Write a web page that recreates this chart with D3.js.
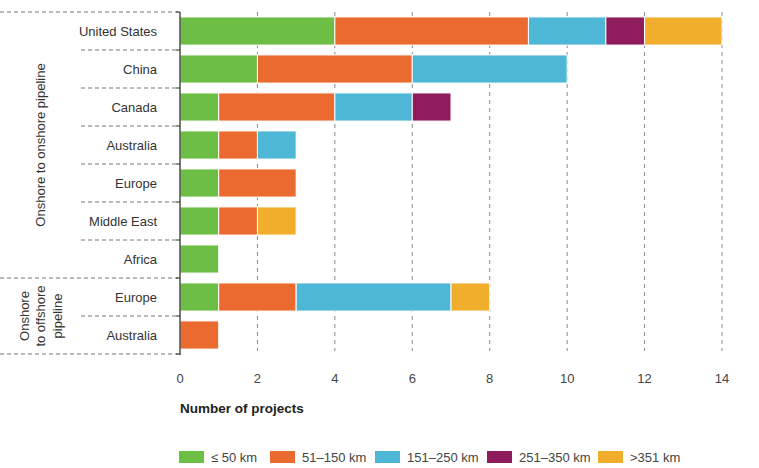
<!DOCTYPE html>
<html><head><meta charset="utf-8">
<script src="https://cdn.jsdelivr.net/npm/d3@7"></script>
<style>body{margin:0;background:#fff}svg{display:block}text{font-family:"Liberation Sans Narrow","Liberation Sans",Arial,sans-serif;}</style>
</head><body><svg id="c" width="759" height="468"></svg>
<script>
const rows = ["United States","China","Canada","Australia","Europe","Middle East","Africa","Europe","Australia"];
const groups = [["Onshore to onshore pipeline"],["Onshore","to offshore","pipeline"]];
const groupSizes = [7, 2];
const seriesNames = ["≤ 50 km","51–150 km","151–250 km","251–350 km",">351 km"];
const colors = ["#6cbf44","#eb6a2f","#4db7d5","#8e1c5d","#f1ad2c"];
const s50  = [4,2,1,1,1,1,1,1,0];
const s150 = [5,4,3,1,2,1,0,2,1];
const s250 = [2,4,2,1,0,0,0,4,0];
const s350 = [1,0,1,0,0,0,0,0,0];
const s351 = [2,0,0,0,0,1,0,1,0];
const ticks = [0,2,4,6,8,10,12,14];
const series = [s50,s150,s250,s350,s351];

const svg = d3.select("#c");
const x = d3.scaleLinear().domain([0,14]).range([180,722]);
const y = d3.scaleBand().domain(d3.range(rows.length)).range([12,354]).paddingInner(0.26).paddingOuter(0.13);
const rowY = d3.scaleLinear().domain([0,rows.length]).range([12,354]);

// gridlines
svg.append("g").selectAll("line").data(ticks.slice(1)).join("line")
  .attr("x1",d=>x(d)).attr("x2",d=>x(d)).attr("y1",12).attr("y2",351)
  .attr("stroke","#8a8a8a").attr("stroke-width",1).attr("stroke-dasharray","4,4");

// bars
const stackData = rows.map((r,i)=>{const o={i}; seriesNames.forEach((s,k)=>o[k]=series[k][i]); return o;});
const stack = d3.stack().keys(d3.range(seriesNames.length))(stackData);
svg.append("g").selectAll("g").data(stack).join("g").attr("fill",(d,k)=>colors[k])
  .selectAll("rect").data(d=>d.filter(p=>p[1]>p[0])).join("rect")
  .attr("x",p=>x(p[0])).attr("width",p=>x(p[1])-x(p[0]))
  .attr("y",p=>y(p.data.i)).attr("height",y.bandwidth())
  .attr("stroke","#fff").attr("stroke-width",1);

// row separators
const seps = d3.range(1,rows.length).filter(i=>i!==groupSizes[0]);
svg.append("g").selectAll("line").data(seps).join("line")
  .attr("x1",81).attr("x2",178).attr("y1",i=>rowY(i)).attr("y2",i=>rowY(i))
  .attr("stroke","#777").attr("stroke-dasharray","4,3");
svg.append("g").selectAll("line").data([0,groupSizes[0],rows.length]).join("line")
  .attr("x1",0).attr("x2",178).attr("y1",i=>rowY(i)).attr("y2",i=>rowY(i))
  .attr("stroke","#777").attr("stroke-dasharray","4,3");

// axis line and tick marks
svg.append("line").attr("x1",180).attr("x2",180).attr("y1",12).attr("y2",355).attr("stroke","#222").attr("stroke-width",1.2);
svg.append("g").selectAll("line").data(d3.range(0,rows.length+1)).join("line")
  .attr("x1",176).attr("x2",180).attr("y1",i=>rowY(i)).attr("y2",i=>rowY(i)).attr("stroke","#222");

// row labels
svg.append("g").selectAll("text").data(rows).join("text")
  .attr("x",157).attr("y",(d,i)=>y(i)+y.bandwidth()/2).attr("dy","0.35em")
  .attr("text-anchor","end").attr("font-size",13).attr("fill","#333").text(d=>d);

// group labels
let start=0;
groups.forEach((lines,g)=>{
  const cy=(rowY(start)+rowY(start+groupSizes[g]))/2;
  const n=lines.length, lh=16.5, cx=42;
  lines.forEach((t,j)=>{
    const xx=cx+(j-(n-1)/2)*lh;
    svg.append("text").attr("transform",`translate(${xx+3},${cy}) rotate(-90)`)
      .attr("text-anchor","middle").attr("font-size",13).attr("fill","#333").text(t);
  });
  start+=groupSizes[g];
});

// x tick labels
svg.append("g").selectAll("text").data(ticks).join("text")
  .attr("x",d=>x(d)).attr("y",383).attr("text-anchor","middle")
  .attr("font-size",13).attr("fill","#444").text(d=>d);
svg.append("text").attr("x",180).attr("y",413).attr("font-size",13.5).attr("font-weight","bold").attr("fill","#222").text("Number of projects");

// legend
const legX=[179,270,375,487,598];
const lg=svg.append("g").selectAll("g").data(seriesNames).join("g").attr("transform",(d,i)=>`translate(${legX[i]},451)`);
lg.append("rect").attr("width",25).attr("height",12).attr("fill",(d,i)=>colors[i]);
lg.append("text").attr("x",32).attr("y",6).attr("dy","0.35em").attr("font-size",13).attr("fill","#444").text(d=>d);
</script></body></html>
